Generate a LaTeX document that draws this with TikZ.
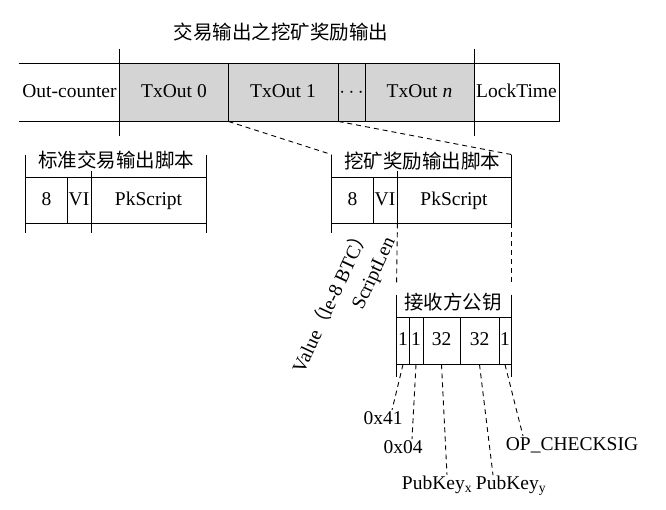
\documentclass[tikz,border=0pt]{standalone}
\usepackage{fontspec}
\setmainfont{Liberation Serif}
\newfontfamily\cjk{Noto Sans CJK SC}
\definecolor{fieldgray}{RGB}{212,212,212}
\tikzstyle{cell}=[inner sep=0pt,text height=13pt,text depth=4pt]
\newcommand{\figfont}{\fontsize{19.5}{23}\selectfont}

\begin{document}
\begin{tikzpicture}[x=1pt,y=-1pt,font=\figfont,line width=0.9pt]
    \tikzstyle{topcell}=[cell,minimum height=57pt]
    \tikzstyle{txcell}=[topcell,fill=fieldgray]
    \tikzstyle{rowcell}=[cell,minimum height=45pt]
    \tikzstyle{keycell}=[cell,minimum height=46pt]
    \tikzstyle{head}=[inner sep=1pt,font=\figfont\cjk]
    \tikzstyle{lbl}=[inner sep=1pt,text height=13pt,text depth=4pt]
    \tikzstyle{link}=[dash pattern=on 5pt off 4pt]

    \useasboundingbox (0,0) rectangle (666,509);

    % transaction outputs
    \node[head] (title) at (281,32) {交易输出之挖矿奖励输出};
    \node[topcell,minimum width=101pt] (oc) at (69.5,92.5)  {Out-counter};
    \node[txcell,minimum width=108pt]  (t0) at (174,92.5)   {TxOut 0};
    \node[txcell,minimum width=110pt]  (t1) at (283,92.5)   {TxOut 1};
    \node[txcell,minimum width=27pt]   (td) at (351.5,92.5) {$\cdots$};
    \node[txcell,minimum width=109pt]  (tn) at (419.5,92.5) {TxOut \textit{n}};
    \node[topcell,minimum width=85pt]  (lt) at (516.5,92.5) {LockTime};

    \draw (oc.north west) -- (lt.north east) -- (lt.south east) -- (oc.south west);
    \draw ([yshift=15pt]t0.north west) -- ([yshift=-15pt]t0.south west);
    \draw ([yshift=15pt]tn.north east) -- ([yshift=-15pt]tn.south east);
    \foreach \n in {t0,t1,td} \draw (\n.north east) -- (\n.south east);

    % standard output script
    \node[head] (sh) at (116,160) {标准交易输出脚本};
    \node[rowcell,minimum width=41pt]  (s8)  at (46.5,200.5)  {8};
    \node[rowcell,minimum width=24pt]  (svi) at (79,200.5)    {VI};
    \node[rowcell,minimum width=115pt] (spk) at (148.5,200.5) {PkScript};

    \draw (s8.north west) -- (spk.north east) (s8.south west) -- (spk.south east);
    \draw ([yshift=23pt]s8.north west) -- ([yshift=-10pt]s8.south west);
    \draw ([yshift=23pt]spk.north east) -- ([yshift=-10pt]spk.south east);
    \draw (s8.north east) -- (s8.south east);
    \draw ([yshift=7pt]svi.north east) -- ([yshift=-10pt]svi.south east);

    % mining reward script
    \node[head] (mh) at (422,161) {挖矿奖励输出脚本};
    \node[rowcell,minimum width=41pt]  (m8)  at (352.5,200.5) {8};
    \node[rowcell,minimum width=24pt]  (mvi) at (385,200.5)   {VI};
    \node[rowcell,minimum width=114pt] (mpk) at (454,200.5)   {PkScript};

    \draw (m8.north west) -- (mpk.north east) (m8.south west) -- (mpk.south east);
    \draw ([yshift=23pt]m8.north west) -- ([yshift=-10pt]m8.south west);
    \draw ([yshift=23pt]mpk.north east) -- (mpk.south east);
    \draw (m8.north east) -- (m8.south east);
    \draw ([yshift=7pt]mvi.north east) -- (mvi.south east);

    \draw[link] (t0.south east) -- ([yshift=23pt]m8.north west);
    \draw[link] (t1.south east) -- ([yshift=23pt]mpk.north east);

    \node[rotate=65] (lval) at (330,300) {Value{\cjk （}le-8 BTC{\cjk ）}};
    \node[rotate=65] (llen) at (375,274) {ScriptLen};

    % receiver public key
    \node[head] (ph) at (453,302) {接收方公钥};
    \node[keycell,minimum width=12pt] (pa) at (403,341)   {1};
    \node[keycell,minimum width=14pt] (pb) at (416,341)   {1};
    \node[keycell,minimum width=37pt] (pc) at (441.5,341) {32};
    \node[keycell,minimum width=39pt] (pd) at (479.5,341) {32};
    \node[keycell,minimum width=12pt] (pe) at (505,341)   {1};

    \draw (pa.north west) -- (pe.north east) (pa.south west) -- (pe.south east);
    \draw ([yshift=23pt]pa.north west) -- ([yshift=-13pt]pa.south west);
    \draw ([yshift=23pt]pe.north east) -- ([yshift=-13pt]pe.south east);
    \foreach \n in {pa,pb,pc,pd} \draw (\n.north east) -- (\n.south east);

    \draw[link] (mvi.south east) -- ([yshift=35pt]pa.north west);
    \draw[link] (mpk.south east) -- ([yshift=35pt]pe.north east);

    \node[lbl] (l41) at (383,420) {0x41};
    \node[lbl] (l04) at (403,449) {0x04};
    \node[lbl] (lpx) at (437,485) {PubKey\textsubscript{x}};
    \node[lbl] (lpy) at (511,485) {PubKey\textsubscript{y}};
    \node[lbl] (lop) at (572,446) {OP\_CHECKSIG};

    \draw[link] (pa.south) -- ([xshift=9pt]l41.north);
    \draw[link] (pb.south) -- ([xshift=9pt]l04.north);
    \draw[link] (pc.south) -- ([xshift=10pt]lpx.north);
    \draw[link] (pd.south) -- ([xshift=-18pt]lpy.north);
    \draw[link] (pe.south) -- ([xshift=-49pt]lop.north);
\end{tikzpicture}
\end{document}
